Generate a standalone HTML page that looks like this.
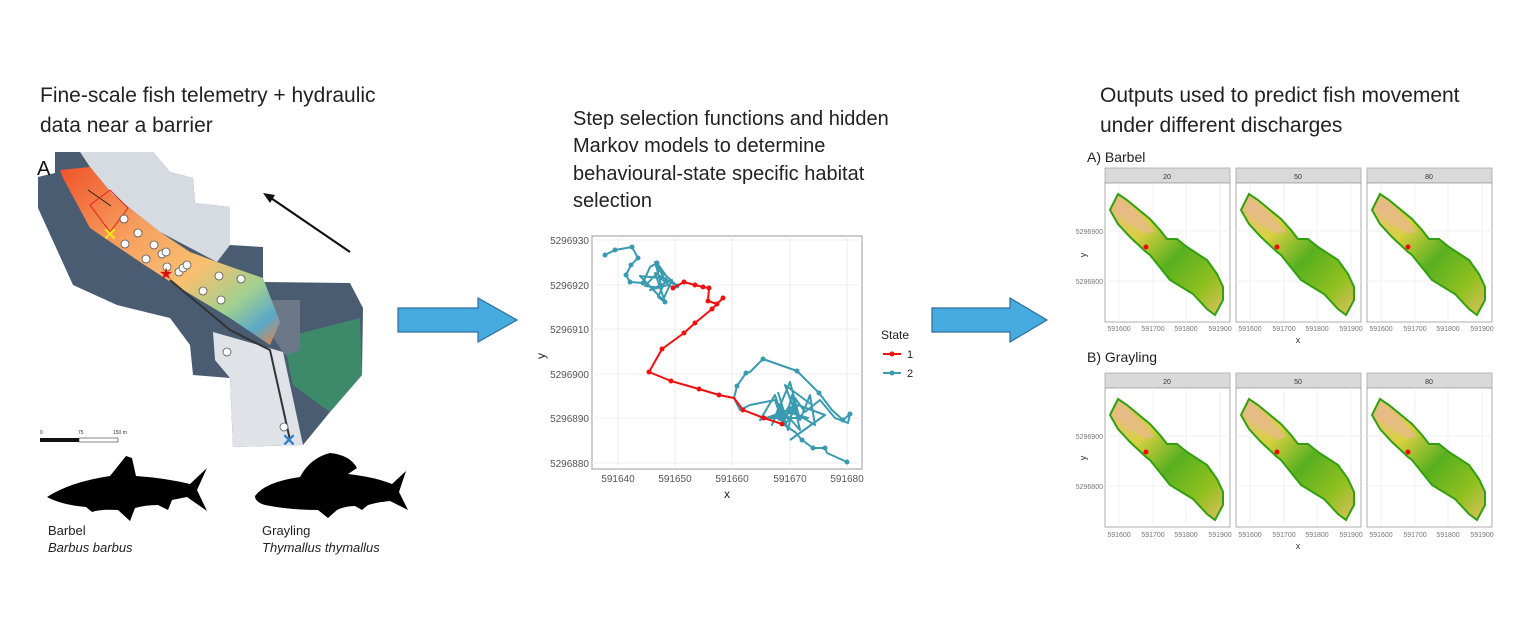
<!DOCTYPE html>
<html><head><meta charset="utf-8"><style>
html,body{margin:0;padding:0;background:#fff;}
svg{display:block;font-family:"Liberation Sans",sans-serif;}
</style></head><body>
<svg width="1529" height="636" viewBox="0 0 1529 636" xmlns="http://www.w3.org/2000/svg">
<defs>
<linearGradient id="hyd" x1="0" y1="0" x2="1" y2="1">
<stop offset="0" stop-color="#f0532a"/><stop offset="0.35" stop-color="#f7a060"/><stop offset="0.6" stop-color="#f8c070"/><stop offset="0.78" stop-color="#a0d090"/><stop offset="0.9" stop-color="#5aa8c8"/><stop offset="1" stop-color="#f08040"/>
</linearGradient>
<linearGradient id="hab" x1="0" y1="0" x2="1" y2="1">
<stop offset="0" stop-color="#e8b890"/><stop offset="0.3" stop-color="#d8d040"/><stop offset="0.55" stop-color="#58b020"/><stop offset="0.8" stop-color="#90c020"/><stop offset="1" stop-color="#e0c060"/>
</linearGradient>
<g id="panel">
<rect x="0" y="0" width="125" height="15" fill="#d9d9d9" stroke="#aaa" stroke-width="0.8"/>
<rect x="0" y="15" width="125" height="139" fill="#fff" stroke="#999" stroke-width="0.8"/>
<g stroke="#eee" stroke-width="0.8">
<line x1="14" y1="15" x2="14" y2="154"/><line x1="48" y1="15" x2="48" y2="154"/><line x1="81" y1="15" x2="81" y2="154"/><line x1="115" y1="15" x2="115" y2="154"/>
<line x1="0" y1="63" x2="125" y2="63"/><line x1="0" y1="113" x2="125" y2="113"/>
</g>
<polygon points="5,42 13,26 22,32 45,51 55,62 62,71 72,71 82,79 102,92 112,106 118,119 118,132 110,147 102,141 88,126 65,112 45,87 41,84 25,69 13,56" fill="url(#hab)" stroke="#30a010" stroke-width="2"/>
<polygon points="14,34 22,36 42,54 50,64 40,66 24,56 12,44" fill="#e8b890" opacity="0.7"/>
<circle cx="41" cy="79" r="2.5" fill="#f00"/>
</g>
</defs>

<text x="40" y="102" font-size="21" fill="#222">Fine-scale fish telemetry + hydraulic</text>
<text x="40" y="132" font-size="21" fill="#222">data near a barrier</text>

<polygon points="55,152 153,152 170,172 193,178 195,203 230,207 230,245 263,247 263,282 350,283 363,308 362,375 330,412 303,445 233,447 230,378 193,375 190,345 170,318 117,305 73,285 38,208 38,177 55,173" fill="#4a5c72"/>
<polygon points="80,152 153,152 170,172 193,178 195,203 230,207 230,245 217,262 160,232 113,195 90,167" fill="#d6dbe2"/>
<polygon points="213,332 283,352 303,445 233,447 230,378 215,360" fill="#dfe3e8"/>
<polygon points="283,338 360,318 362,375 330,412 293,385" fill="#3d8a6a"/>
<polygon points="265,300 300,300 300,350 285,355 268,330" fill="#6c7888"/>
<polygon points="60,170 90,167 113,195 160,232 190,252 217,262 263,278 280,322 270,345 230,318 180,288 140,262 90,228 63,178" fill="url(#hyd)"/>
<polyline points="88,190 111,206" stroke="#222" stroke-width="1" fill="none"/>
<polygon points="90,205 110,190 128,208 110,232" fill="none" stroke="#e02020" stroke-width="1"/>
<polyline points="170,280 230,330 270,350 290,440" stroke="#333" stroke-width="2" fill="none"/>
<g fill="#fff" stroke="#555" stroke-width="0.8">
<circle cx="124" cy="219" r="4"/><circle cx="138" cy="233" r="4"/><circle cx="125" cy="244" r="4"/><circle cx="154" cy="245" r="4"/><circle cx="162" cy="254" r="4"/><circle cx="166" cy="252" r="4"/><circle cx="146" cy="259" r="4"/><circle cx="167" cy="267" r="4"/><circle cx="179" cy="272" r="4"/><circle cx="183" cy="268" r="4"/><circle cx="187" cy="265" r="4"/><circle cx="219" cy="276" r="4"/><circle cx="241" cy="279" r="4"/><circle cx="203" cy="291" r="4"/><circle cx="221" cy="300" r="4"/><circle cx="227" cy="352" r="4"/><circle cx="284" cy="427" r="4"/>
</g>
<text x="110" y="240" font-size="17" fill="#f0e020" text-anchor="middle" font-weight="bold">✕</text>
<text x="166" y="279" font-size="16" fill="#e01010" text-anchor="middle">★</text>
<text x="289" y="446" font-size="17" fill="#2a80d0" text-anchor="middle" font-weight="bold">✕</text>
<text x="37" y="175" font-size="20" fill="#111">A</text>
<line x1="350" y1="252" x2="268" y2="196" stroke="#111" stroke-width="2.2"/>
<polygon points="263,193 275,195 270,203" fill="#111"/>
<text x="40" y="434" font-size="5" fill="#333">0</text><text x="78" y="434" font-size="5" fill="#333">75</text><text x="113" y="434" font-size="5" fill="#333">150 m</text>
<rect x="40" y="438" width="39" height="4" fill="#111"/><rect x="79" y="438" width="39" height="4" fill="#fff" stroke="#333" stroke-width="0.6"/>

<path d="M47,497 Q70,482 110,476 L126,456 L132,458 L136,476 Q165,478 190,484 L207,468 L197,490 L207,511 L187,497 L172,500 L168,510 L158,505 Q145,505 135,508 L130,521 L118,510 Q100,509 92,512 L86,507 Q62,505 47,497 Z" fill="#000"/>
<path d="M255,496 Q265,482 300,477 Q310,458 330,453 Q350,455 357,468 L348,474 Q375,477 392,484 L406,471 L399,492 L408,510 L390,501 Q378,502 368,505 L362,510 L355,506 Q345,506 337,510 L328,518 L318,510 Q290,510 265,505 Q255,502 255,496 Z" fill="#000"/>
<text x="48" y="535" font-size="13" fill="#222">Barbel</text>
<text x="48" y="552" font-size="13" fill="#222" font-style="italic">Barbus barbus</text>
<text x="262" y="535" font-size="13" fill="#222">Grayling</text>
<text x="262" y="552" font-size="13" fill="#222" font-style="italic">Thymallus thymallus</text>

<polygon points="398,308 478,308 478,298 517,320 478,342 478,332 398,332" fill="#46ace0" stroke="#2d6e9e" stroke-width="1.2"/>
<polygon points="932,308 1010,308 1010,298 1047,320 1010,342 1010,332 932,332" fill="#46ace0" stroke="#2d6e9e" stroke-width="1.2"/>

<text x="573" y="125" font-size="20" fill="#222">Step selection functions and hidden</text>
<text x="573" y="152" font-size="20" fill="#222">Markov models to determine</text>
<text x="573" y="180" font-size="20" fill="#222">behavioural-state specific habitat</text>
<text x="573" y="207" font-size="20" fill="#222">selection</text>

<rect x="592" y="236" width="270" height="233" fill="#fff" stroke="#999" stroke-width="1"/>
<g stroke="#ececec" stroke-width="1">
<line x1="618" y1="236" x2="618" y2="469"/><line x1="675" y1="236" x2="675" y2="469"/><line x1="732" y1="236" x2="732" y2="469"/><line x1="790" y1="236" x2="790" y2="469"/><line x1="847" y1="236" x2="847" y2="469"/>
<line x1="592" y1="240" x2="862" y2="240"/><line x1="592" y1="285" x2="862" y2="285"/><line x1="592" y1="329" x2="862" y2="329"/><line x1="592" y1="374" x2="862" y2="374"/><line x1="592" y1="418" x2="862" y2="418"/><line x1="592" y1="463" x2="862" y2="463"/>
</g>
<g font-size="10" fill="#555" text-anchor="end">
<text x="589" y="244">5296930</text><text x="589" y="289">5296920</text><text x="589" y="333">5296910</text><text x="589" y="378">5296900</text><text x="589" y="422">5296890</text><text x="589" y="467">5296880</text>
</g>
<g font-size="10" fill="#555" text-anchor="middle">
<text x="618" y="482">591640</text><text x="675" y="482">591650</text><text x="732" y="482">591660</text><text x="790" y="482">591670</text><text x="847" y="482">591680</text>
</g>
<text x="727" y="498" font-size="12" fill="#222" text-anchor="middle">x</text>
<text x="545" y="356" font-size="12" fill="#222" text-anchor="middle" transform="rotate(-90 545 356)">y</text>
<g stroke="#3a9ab0" stroke-width="2" fill="none" stroke-linejoin="round">
<polyline points="605,255 615,250 632,247 638,258 631,265 626,275 630,282 643,283 650,267 657,263 667,277 658,297 665,302 655,273 677,286 660,270 645,286 662,288 655,262 668,285 650,290 672,280 663,300 640,276 660,278 673,288"/>
<polyline points="734,398 737,386 746,373 750,372 755,367 763,359 797,371 819,393 832,410 843,420 850,414 848,423 835,418 820,400 805,412 795,398 788,430 780,404 772,425 790,382 800,420 810,395 815,425 790,410 760,420 775,395 785,425 798,405 825,415 790,440"/>
<polyline points="734,398 740,410 750,405 760,403 775,400 783,424 795,432 802,440 813,448 825,448 827,453 847,462"/>
<polyline points="778,392 786,418 792,395 800,430 782,410 808,418 770,418 795,412 785,385 812,405"/>
</g>
<g fill="#3a9ab0">
<circle cx="605" cy="255" r="2.5"/><circle cx="615" cy="250" r="2.5"/><circle cx="632" cy="247" r="2.5"/><circle cx="638" cy="258" r="2.5"/><circle cx="631" cy="265" r="2.5"/><circle cx="626" cy="275" r="2.5"/><circle cx="630" cy="282" r="2.5"/><circle cx="643" cy="283" r="2.5"/><circle cx="657" cy="263" r="2.5"/><circle cx="665" cy="302" r="2.5"/><circle cx="677" cy="286" r="2.5"/><circle cx="746" cy="373" r="2.5"/><circle cx="763" cy="359" r="2.5"/><circle cx="797" cy="371" r="2.5"/><circle cx="819" cy="393" r="2.5"/><circle cx="843" cy="420" r="2.5"/><circle cx="850" cy="414" r="2.5"/><circle cx="802" cy="440" r="2.5"/><circle cx="813" cy="448" r="2.5"/><circle cx="825" cy="448" r="2.5"/><circle cx="847" cy="462" r="2.5"/><circle cx="737" cy="386" r="2.5"/><circle cx="790" cy="410" r="4"/><circle cx="780" cy="418" r="3"/>
</g>
<g stroke="#f01010" stroke-width="2" fill="none" stroke-linejoin="round">
<polyline points="673,288 684,282 695,285 703,287 709,288 708,301 717,304 723,298 712,309 695,323 684,333 662,349 649,372 671,381 699,389 719,395 734,398 743,410 764,418 782,424"/>
</g>
<g fill="#f01010">
<circle cx="673" cy="288" r="2.5"/><circle cx="684" cy="282" r="2.5"/><circle cx="695" cy="285" r="2.5"/><circle cx="703" cy="287" r="2.5"/><circle cx="709" cy="288" r="2.5"/><circle cx="708" cy="301" r="2.5"/><circle cx="717" cy="304" r="2.5"/><circle cx="723" cy="298" r="2.5"/><circle cx="712" cy="309" r="2.5"/><circle cx="695" cy="323" r="2.5"/><circle cx="684" cy="333" r="2.5"/><circle cx="662" cy="349" r="2.5"/><circle cx="649" cy="372" r="2.5"/><circle cx="671" cy="381" r="2.5"/><circle cx="699" cy="389" r="2.5"/><circle cx="719" cy="395" r="2.5"/><circle cx="743" cy="410" r="2.5"/><circle cx="764" cy="418" r="2.5"/><circle cx="782" cy="424" r="2.5"/>
</g>
<text x="881" y="339" font-size="12" fill="#222">State</text>
<line x1="883" y1="354" x2="901" y2="354" stroke="#f01010" stroke-width="2"/><circle cx="892" cy="354" r="2.5" fill="#f01010"/>
<text x="907" y="358" font-size="11" fill="#222">1</text>
<line x1="883" y1="373" x2="901" y2="373" stroke="#3a9ab0" stroke-width="2"/><circle cx="892" cy="373" r="2.5" fill="#3a9ab0"/>
<text x="907" y="377" font-size="11" fill="#222">2</text>

<text x="1100" y="102" font-size="21" fill="#222">Outputs used to predict fish movement</text>
<text x="1100" y="132" font-size="21" fill="#222">under different discharges</text>

<text x="1087" y="162" font-size="14" fill="#222">A) Barbel</text>
<use href="#panel" x="1105" y="168"/><use href="#panel" x="1236" y="168"/><use href="#panel" x="1367" y="168"/>
<g font-size="7" fill="#333" text-anchor="middle">
<text x="1167" y="179">20</text><text x="1298" y="179">50</text><text x="1429" y="179">80</text>
</g>
<g font-size="7" fill="#777" text-anchor="end">
<text x="1103" y="234">5296900</text><text x="1103" y="284">5296800</text>
</g>
<g font-size="7" fill="#777" text-anchor="middle">
<text x="1119" y="331">591600</text><text x="1153" y="331">591700</text><text x="1186" y="331">591800</text><text x="1220" y="331">591900</text>
<text x="1250" y="331">591600</text><text x="1284" y="331">591700</text><text x="1317" y="331">591800</text><text x="1351" y="331">591900</text>
<text x="1381" y="331">591600</text><text x="1415" y="331">591700</text><text x="1448" y="331">591800</text><text x="1482" y="331">591900</text>
</g>
<text x="1298" y="343" font-size="9" fill="#333" text-anchor="middle">x</text>
<text x="1086" y="255" font-size="9" fill="#333" text-anchor="middle" transform="rotate(-90 1086 255)">y</text>

<text x="1087" y="362" font-size="14" fill="#222">B) Grayling</text>
<use href="#panel" x="1105" y="373"/><use href="#panel" x="1236" y="373"/><use href="#panel" x="1367" y="373"/>
<g font-size="7" fill="#333" text-anchor="middle">
<text x="1167" y="384">20</text><text x="1298" y="384">50</text><text x="1429" y="384">80</text>
</g>
<g font-size="7" fill="#777" text-anchor="end">
<text x="1103" y="439">5296900</text><text x="1103" y="489">5296800</text>
</g>
<g font-size="7" fill="#777" text-anchor="middle">
<text x="1119" y="537">591600</text><text x="1153" y="537">591700</text><text x="1186" y="537">591800</text><text x="1220" y="537">591900</text>
<text x="1250" y="537">591600</text><text x="1284" y="537">591700</text><text x="1317" y="537">591800</text><text x="1351" y="537">591900</text>
<text x="1381" y="537">591600</text><text x="1415" y="537">591700</text><text x="1448" y="537">591800</text><text x="1482" y="537">591900</text>
</g>
<text x="1298" y="549" font-size="9" fill="#333" text-anchor="middle">x</text>
<text x="1086" y="458" font-size="9" fill="#333" text-anchor="middle" transform="rotate(-90 1086 458)">y</text>
</svg>
</body></html>
